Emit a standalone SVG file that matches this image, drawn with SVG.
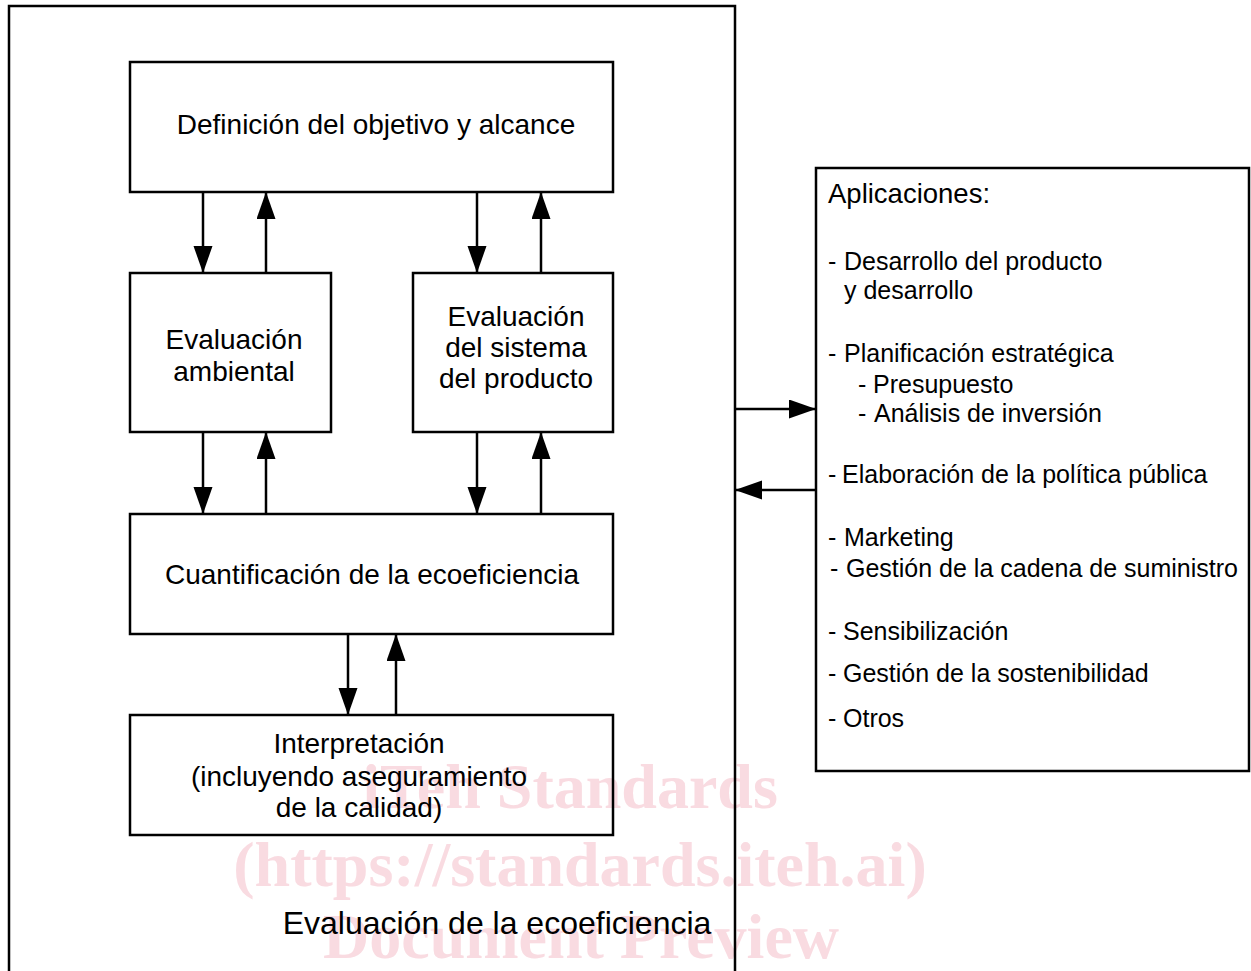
<svg xmlns="http://www.w3.org/2000/svg" width="1251" height="971" viewBox="0 0 1251 971">
<style>
.box{fill:none;stroke:#000;stroke-width:2.5}
.ln{fill:none;stroke:#000;stroke-width:2.5}
.t{font-family:"Liberation Sans",Arial,sans-serif;font-size:28px;fill:#000;text-anchor:middle}
.r{font-family:"Liberation Sans",Arial,sans-serif;font-size:25px;fill:#000}
.wm{font-family:"Liberation Serif","Times New Roman",serif;font-weight:bold;font-size:64px;fill:#f9dbe1;text-anchor:middle}
</style>
<defs>
<marker id="ah" markerUnits="userSpaceOnUse" markerWidth="28" markerHeight="20" refX="27" refY="9.5" orient="auto">
<path d="M0,0 L27,9.5 L0,19 z" fill="#000"/>
</marker>
</defs>
<rect width="1251" height="971" fill="#fff"/>
<g id="watermark">
<text class="wm" x="570" y="808">iTeh Standards</text>
<text class="wm" x="580" y="886">(https://standards.iteh.ai)</text>
<text class="wm" x="581" y="958">Document Preview</text>
</g>
<g id="frame">
<path class="ln" d="M9,971 V6 H735 V971"/>
<text class="t" x="497" y="934" style="font-size:32px">Evaluación de la ecoeficiencia</text>
</g>
<g id="n1">
<rect class="box" x="130" y="62" width="483" height="130"/>
<text class="t" x="376" y="134">Definición del objetivo y alcance</text>
</g>
<g id="n2">
<rect class="box" x="130" y="273" width="201" height="159"/>
<text class="t" x="234" y="349">Evaluación</text>
<text class="t" x="234" y="381">ambiental</text>
</g>
<g id="n3">
<rect class="box" x="413" y="273" width="200" height="159"/>
<text class="t" x="516" y="326">Evaluación</text>
<text class="t" x="516" y="357">del sistema</text>
<text class="t" x="516" y="388">del producto</text>
</g>
<g id="n4">
<rect class="box" x="130" y="514" width="483" height="120"/>
<text class="t" x="372" y="584">Cuantificación de la ecoeficiencia</text>
</g>
<g id="n5">
<rect class="box" x="130" y="715" width="483" height="120"/>
<text class="t" x="359" y="753">Interpretación</text>
<text class="t" x="359" y="786">(incluyendo aseguramiento</text>
<text class="t" x="359" y="817">de la calidad)</text>
</g>
<g id="n6">
<rect class="box" x="816" y="168" width="433" height="603"/>
<text class="r" x="828" y="203" style="font-size:27.5px">Aplicaciones:</text>
<text class="r" y="270"><tspan x="828">-</tspan><tspan x="844">Desarrollo del producto</tspan></text>
<text class="r" x="844" y="299">y desarrollo</text>
<text class="r" y="362"><tspan x="828">-</tspan><tspan x="844">Planificación estratégica</tspan></text>
<text class="r" y="393"><tspan x="858">-</tspan><tspan x="873">Presupuesto</tspan></text>
<text class="r" y="422"><tspan x="858">-</tspan><tspan x="874">Análisis de inversión</tspan></text>
<text class="r" y="483"><tspan x="828">-</tspan><tspan x="842">Elaboración de la política pública</tspan></text>
<text class="r" y="546"><tspan x="828">-</tspan><tspan x="844">Marketing</tspan></text>
<text class="r" y="577"><tspan x="830">-</tspan><tspan x="846">Gestión de la cadena de suministro</tspan></text>
<text class="r" y="640"><tspan x="828">-</tspan><tspan x="843">Sensibilización</tspan></text>
<text class="r" y="682"><tspan x="828">-</tspan><tspan x="843">Gestión de la sostenibilidad</tspan></text>
<text class="r" y="727"><tspan x="828">-</tspan><tspan x="843">Otros</tspan></text>
</g>
<g id="connectors">
<path class="ln" marker-end="url(#ah)" d="M203,192 V273"/>
<path class="ln" marker-end="url(#ah)" d="M266,273 V192"/>
<path class="ln" marker-end="url(#ah)" d="M477,192 V273"/>
<path class="ln" marker-end="url(#ah)" d="M541,273 V192"/>
<path class="ln" marker-end="url(#ah)" d="M203,432 V514"/>
<path class="ln" marker-end="url(#ah)" d="M266,514 V432"/>
<path class="ln" marker-end="url(#ah)" d="M477,432 V514"/>
<path class="ln" marker-end="url(#ah)" d="M541,514 V432"/>
<path class="ln" marker-end="url(#ah)" d="M348,634 V715"/>
<path class="ln" marker-end="url(#ah)" d="M396,715 V634"/>
<path class="ln" marker-end="url(#ah)" d="M735,409 H816"/>
<path class="ln" marker-end="url(#ah)" d="M816,490 H735"/>
</g>
</svg>
